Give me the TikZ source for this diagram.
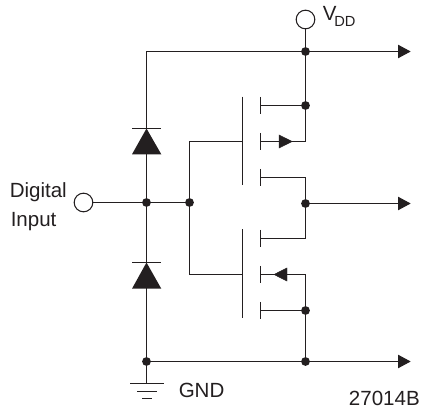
\documentclass[tikz,border=0pt]{standalone}
\usepackage{fontspec}
\setmainfont{Liberation Sans}
\usetikzlibrary{arrows.meta}
\definecolor{ink}{HTML}{231F20}
\tikzset{
  wire/.style={draw=ink,line width=0.85pt},
  gatebar/.style={draw=ink,line width=0.9pt},
  dot/.style={circle,fill=ink,draw=none,minimum size=6.6pt,inner sep=0pt},
  term/.style={circle,draw=ink,fill=white,line width=0.8pt,minimum size=14pt,inner sep=0pt},
  outwire/.style={wire,-{Triangle[length=9.5pt,width=10pt,fill=ink]}},
  mosarrow/.style={draw=ink,fill=ink,line width=0.3pt},
  lab/.style={text=ink,font=\fontsize{15.4}{15.4}\selectfont,inner sep=0pt},
}
\begin{document}
\begin{tikzpicture}[x=0.75pt,y=-0.75pt]
\useasboundingbox (0,0) rectangle (422,410);
% terminals and junctions
\node[term] (vdd) at (305.5,19.5) {};
\node[term] (in) at (83.5,202.5) {};
\node[dot] (jtop) at (305.5,51.5) {};
\node[dot] (jd1) at (305.5,105.5) {};
\node[dot] (jout) at (305.5,203.5) {};
\node[dot] (js2) at (305.5,310.5) {};
\node[dot] (jbot) at (305.5,361.5) {};
\node[dot] (jin) at (146.5,202.5) {};
\node[dot] (jg) at (189.5,202.5) {};
\node[dot] (jgnd) at (146.5,361.5) {};
% free ends
\coordinate (tr) at (146.5,51.5);
\coordinate (a1) at (410.7,51.5);
\coordinate (a2) at (410.7,203.5);
\coordinate (a3) at (410.7,361.5);
\coordinate (g1) at (242.5,141.5);
\coordinate (g2) at (242.5,274.5);
\coordinate (s1) at (260.5,105.5);
\coordinate (s2) at (260.5,141.5);
\coordinate (s3) at (260.5,177.5);
\coordinate (s4) at (260.5,238.5);
\coordinate (s5) at (260.5,274.5);
\coordinate (s6) at (260.5,310.5);
\coordinate (gt) at (146.5,383.5);
% rails
\draw[wire] (tr) -- (jtop.center);
\draw[wire] (vdd) -- (jtop);
\draw[wire] (jtop) -- (jd1);
\draw[wire] (jd1.center) -- (305.5,141.5) -- (s2);
\draw[wire] (s3) -- (305.5,177.5) -- (jout.center);
\draw[wire] (s4) -- (305.5,238.5) -- (jout.center);
\draw[wire] (s5) -- (305.5,274.5) -- (js2.center);
\draw[wire] (s6) -- (js2.center) -- (jbot.center);
\draw[wire] (s1) -- (jd1.center);
\draw[outwire] (jtop.center) -- (a1);
\draw[outwire] (jout.center) -- (a2);
\draw[outwire] (jgnd.center) -- (a3);
\draw[wire] (tr) -- (jin.center) -- (jgnd.center) -- (gt);
\draw[wire] (in) -- (jg.center);
\draw[wire] (g1) -- (189.5,141.5) -- (jg.center) -- (189.5,274.5) -- (g2);
% gates
\draw[gatebar] (242.5,96.7) -- (242.5,185);
\draw[gatebar] (242.5,229.3) -- (242.5,318.3);
\foreach \y in {105.5,141.5,177.5,238.5,274.5,310.5}
  \draw[gatebar] (260.5,\y-8.7) -- (260.5,\y+8.7);
% MOS arrows
\draw[wire,line width=1.3pt] (s2) -- (280,141.5);
\fill[mosarrow] (279,134.9) -- (292.3,141.5) -- (279,148.1) -- cycle;
\fill[mosarrow] (274,274.5) -- (287,267.9) -- (287,281.1) -- cycle;
% diodes
\fill[ink] (146.5,128.5) -- (161.3,154.3) -- (132,154.3) -- cycle;
\draw[wire] (132,128.5) -- (161.3,128.5);
\fill[ink] (146.5,262.5) -- (161.3,288.7) -- (132,288.7) -- cycle;
\draw[wire] (132,262.5) -- (161.3,262.5);
% ground
\draw[wire] (130,383.5) -- (164,383.5);
\draw[wire] (137,391.5) -- (157,391.5);
\draw[wire] (142,398.5) -- (152,398.5);
% labels
\node[lab,anchor=base west] (t1) at (9.5,198) {Digital};
\node[lab,anchor=base west] (t2) at (10.5,226.7) {Input};
\node[lab,anchor=base west] (t3) at (178.5,397.5) {GND};
\node[lab,anchor=base east] (t4) at (420,405) {27014B};
\node[lab,anchor=base west] (t5) at (322.5,20.5) {V};
\node[lab,anchor=base west,font=\fontsize{11}{11}\selectfont] (t6) at (334,26.5) {DD};
\end{tikzpicture}
\end{document}
